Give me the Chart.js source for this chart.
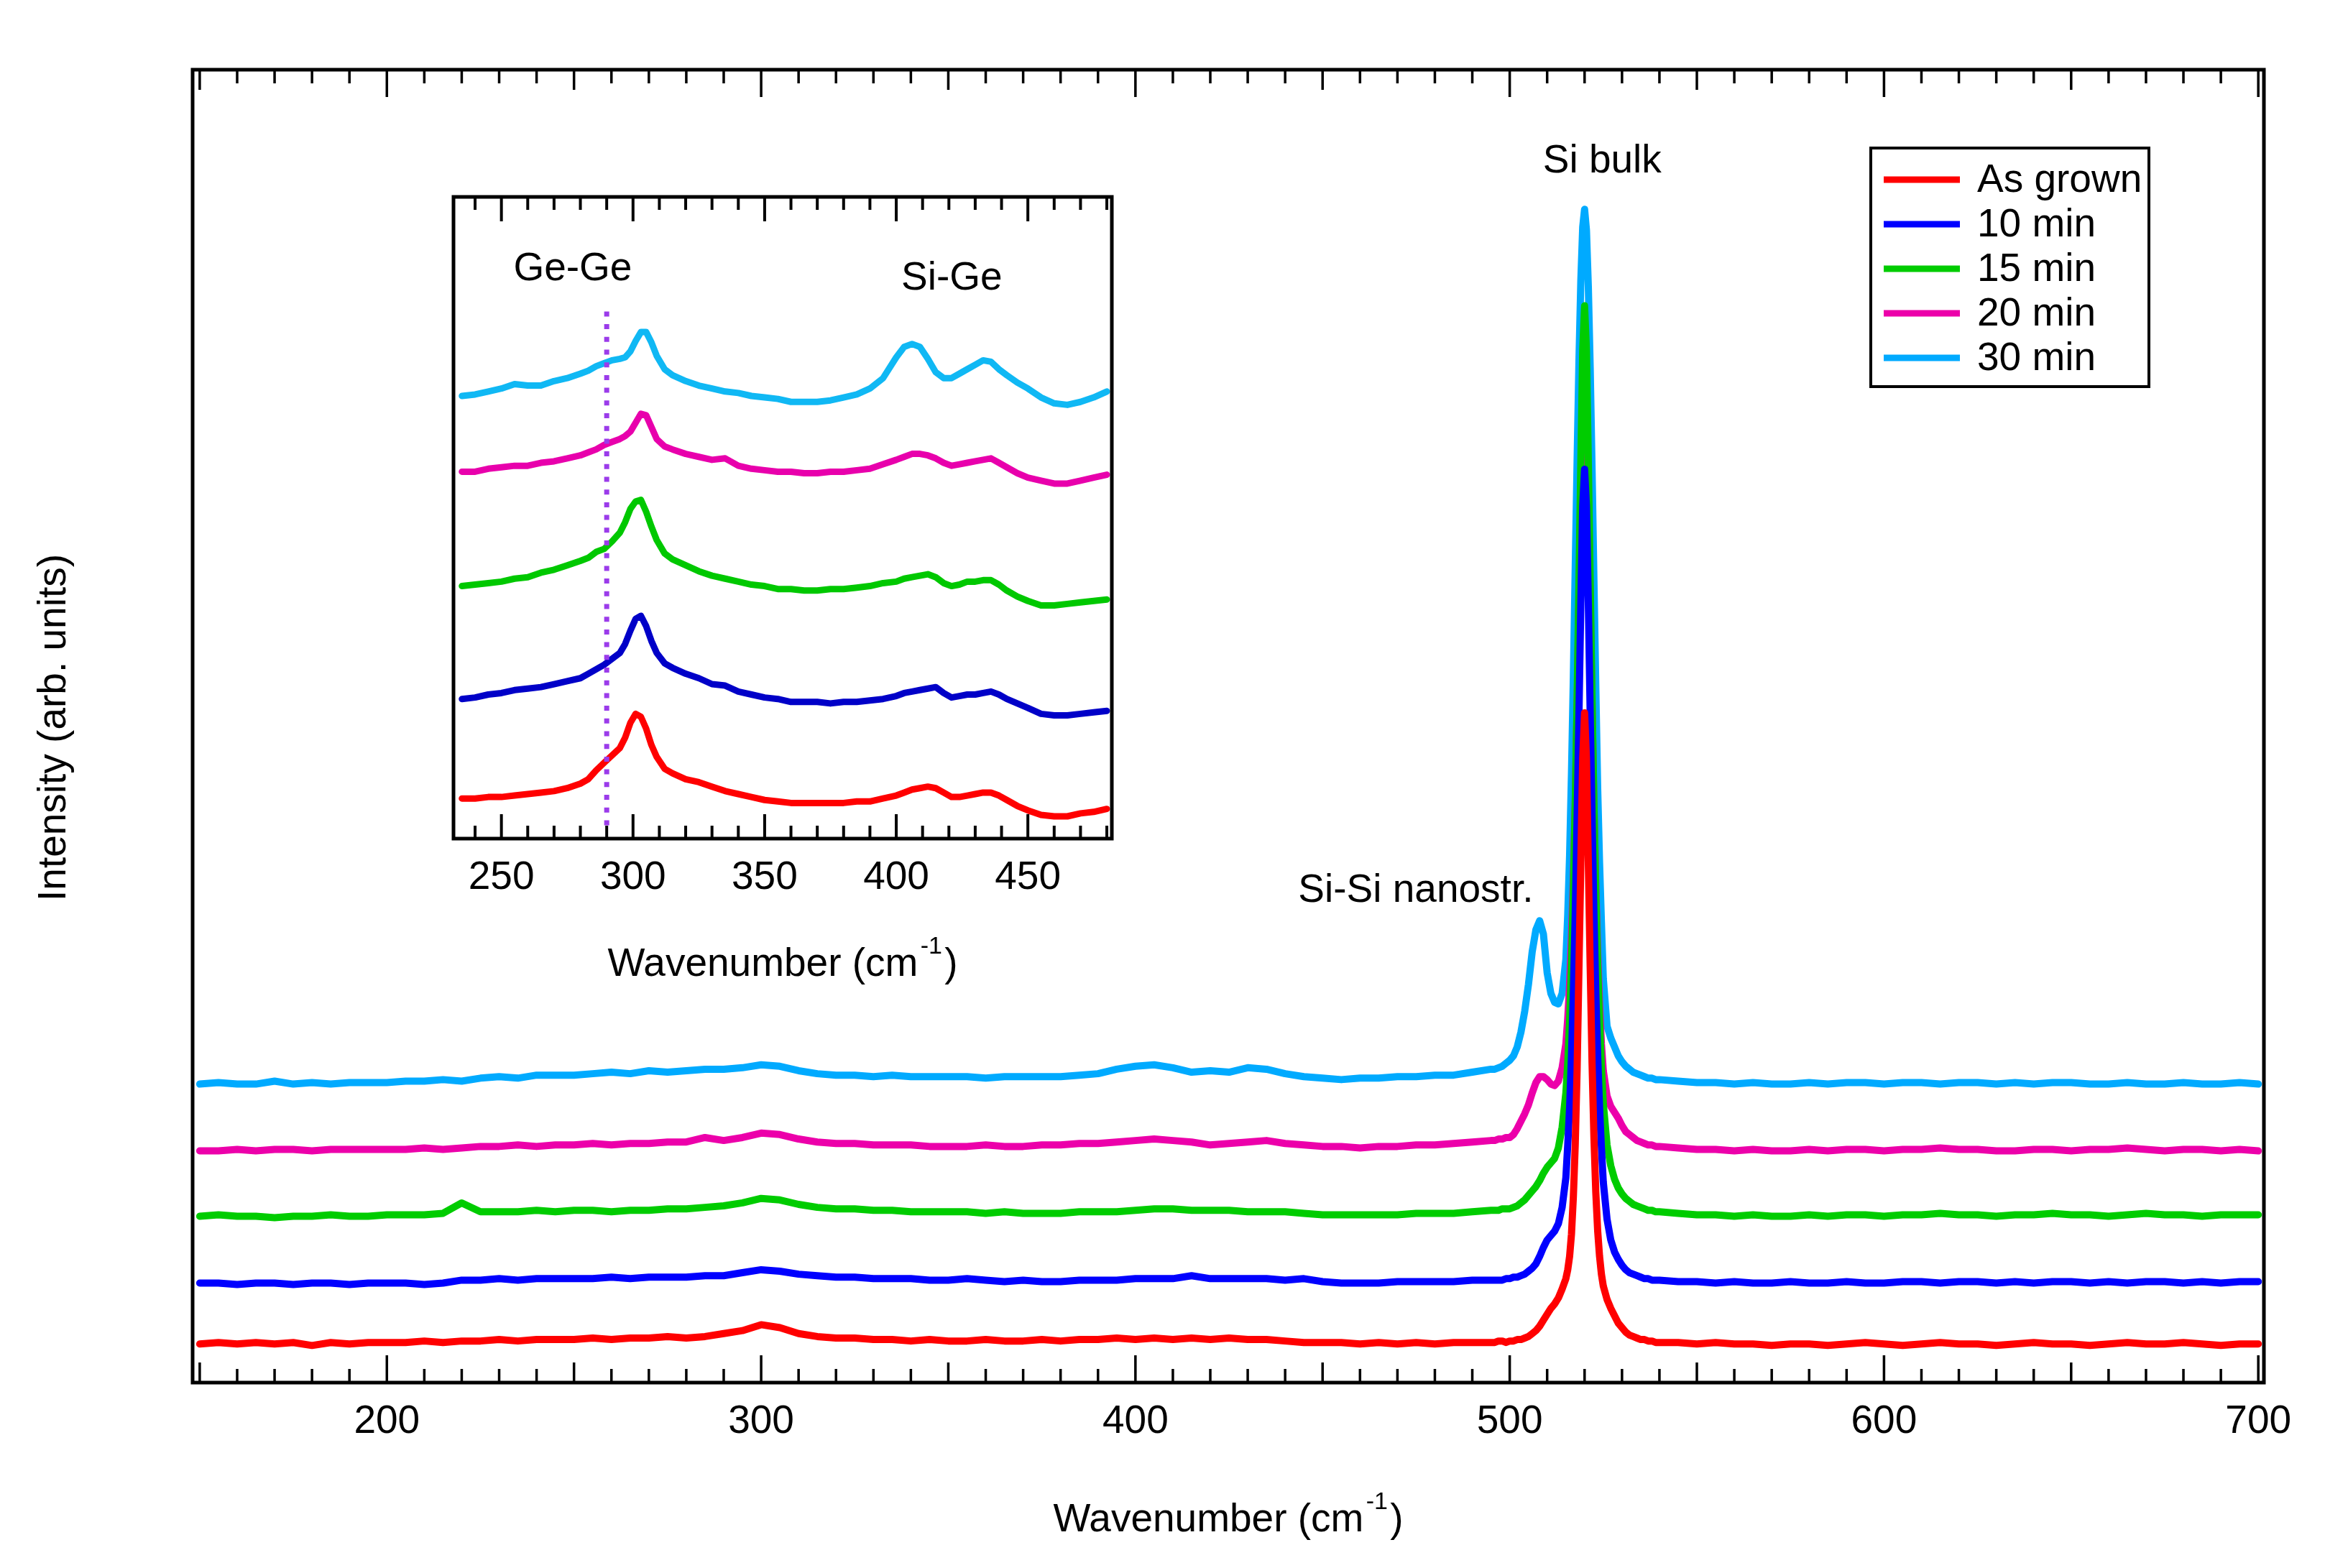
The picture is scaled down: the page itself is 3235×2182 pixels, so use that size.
<!DOCTYPE html>
<html>
<head>
<meta charset="utf-8">
<script src="https://cdn.jsdelivr.net/npm/chart.js@4.4.1/dist/chart.umd.min.js"></script>
<style>
  html, body { margin: 0; padding: 0; background: #fff; overflow: hidden; }
  #wrap { position: relative; width: 3235px; height: 2182px; }
  #wrap canvas { position: absolute; left: 0; top: 0; }
</style>
</head>
<body>
<div id="wrap">
  <canvas id="mainChart" width="3235" height="2182"></canvas>
  <canvas id="insetChart" width="3235" height="2182"></canvas>
</div>
<script>
// ---- main spectra (wavenumber in cm-1, intensity offset per trace, arb. units) ----
const wavenumbers = [
  150,155,160,165,170,175,180,185,190,195,200,205,210,215,220,225,230,235,240,245,
  250,255,260,265,270,275,280,285,290,295,300,305,310,315,320,325,330,335,340,345,
  350,355,360,365,370,375,380,385,390,395,400,405,410,415,420,425,430,435,440,445,
  450,455,460,465,470,475,480,485,490,495,
  496,497,498,499,500,501,502,503,504,505,506,507,508,509,510,511,512,513,514,515,
  515.5,516,516.5,517,517.5,518,518.5,519,519.5,520,520.5,521,521.5,522,522.5,523,523.5,524,524.5,
  525,526,527,528,529,530,531,532,533,534,535,536,537,538,539,540,
  545,550,555,560,565,570,575,580,585,590,595,600,605,610,615,620,625,630,635,640,
  645,650,655,660,665,670,675,680,685,690,695,700
];

const asGrown = [
  26,27,26,27,26,27,25,27,26,27, 27,27,28,27,28,28,29,28,29,29,
  29,30,29,30,30,31,30,31,33,35, 39,37,33,31,30,30,29,29,28,29,
  28,28,29,28,28,29,28,29,29,30, 29,30,29,30,29,30,29,29,28,27,
  27,27,26,27,26,27,26,27,27,27,
  27,28,28,27,28,28,29,29,30,31,33,35,38,42,46,50,53,57,63,70,
  76,85,100,125,160,210,280,350,420,451,420,350,280,215,165,128,102,85,73,
  65,56,50,45,40,37,34,32,31,30,29,29,28,28,27,27,
  27,26,27,26,26,25,26,26,25,26,27,26,25,26,27,26,26,25,26,27,26,26,25,26,27,26,26,27,26,25,26,26
];
const min10 = [
  67,67,66,67,67,66,67,67,66,67, 67,67,66,67,69,69,70,69,70,70,
  70,70,71,70,71,71,71,72,72,74, 76,75,73,72,71,71,70,70,70,69,
  69,70,69,68,69,68,68,69,69,69, 70,70,70,72,70,70,70,70,69,70,
  68,67,67,67,68,68,68,68,69,69,
  69,69,69,70,70,71,71,72,73,75,77,80,85,91,96,99,102,107,118,138,
  160,185,220,262,315,380,450,525,590,615,590,525,450,380,315,262,220,185,158,
  135,110,96,88,83,79,76,74,73,72,71,70,70,69,69,69,
  68,68,67,68,67,67,68,67,67,68,67,67,68,68,67,68,68,67,68,67,68,68,67,68,67,68,68,67,68,67,68,68
];
const min15 = [
  112,113,112,112,111,112,112,113,112,112, 113,113,113,114,121,115,115,115,116,115,
  116,116,115,116,116,117,117,118,119,121, 124,123,120,118,117,117,116,116,115,115,
  115,115,114,115,114,114,114,115,115,115, 116,117,117,116,116,116,115,115,115,114,
  113,113,113,113,113,114,114,114,115,116,
  116,116,117,117,117,118,119,121,123,126,129,132,136,141,145,148,151,158,172,195,
  215,243,282,330,390,460,540,620,695,725,695,620,540,460,390,330,282,243,212,
  188,160,146,137,131,127,124,122,120,119,118,117,116,116,115,115,
  114,113,113,112,113,112,112,113,112,113,113,112,113,113,114,113,113,112,113,113,114,113,113,112,113,114,113,113,112,113,113,113
];
const min20 = [
  156,156,157,156,157,157,156,157,157,157, 157,157,158,157,158,159,159,160,159,160,
  160,161,160,161,161,162,162,165,163,165, 168,167,164,162,161,161,160,160,160,159,
  159,159,160,159,159,160,160,161,161,162, 163,164,163,162,160,161,162,163,161,160,
  159,159,158,159,159,160,160,161,162,163,
  163,164,164,165,165,167,171,176,181,187,195,202,206,206,204,201,200,203,212,228,
  245,268,300,340,390,455,525,595,660,690,660,595,525,455,390,335,290,255,228,
  210,193,186,182,178,173,169,167,165,163,162,161,160,160,159,159,
  158,157,157,156,157,156,156,157,156,157,157,156,157,157,158,157,157,156,156,157,157,156,157,157,158,157,156,157,157,156,157,156
];
const min30 = [
  201,202,201,201,203,201,202,201,202,202, 202,203,203,204,203,205,206,205,207,207,
  207,208,209,208,210,209,210,211,211,212, 214,213,210,208,207,207,206,207,206,206,
  206,206,205,206,206,206,206,207,208,211, 213,214,212,209,210,209,212,211,208,206,
  205,204,205,205,206,206,207,207,209,211,
  211,212,213,215,217,220,226,236,250,268,290,305,311,302,276,262,256,255,262,285,
  315,355,410,475,548,620,688,742,778,790,776,738,683,615,540,468,400,350,310,
  272,240,232,226,220,216,213,211,209,208,207,206,205,205,204,204,
  203,202,202,201,202,201,201,202,201,202,202,201,202,202,201,202,202,201,202,201,202,202,201,201,202,201,201,202,201,201,202,201
];
const mainTickValues = [200, 300, 400, 500, 600, 700];

// ---- inset: Ge-Ge / Si-Ge region ----
const insetWavenumbers = [
  235,240,245,250,255,260,265,270,275,280,283,286,289,292,295,297,299,301,303,305,
  307,309,312,315,320,325,330,335,340,345,350,355,360,365,370,375,380,385,390,395,
  400,403,406,409,412,415,418,421,424,427,430,433,436,439,442,446,450,455,460,465,
  470,475,480
];
const insetAsGrown = [
  27,27,28,28,29,30,31,32,34,37, 40,46,51,56,61, 68,78,84,82,74,63,55, 47,44,
  40,38,35,32,30,28,26,25,24,24,24,24,24,25,25,27, 29,
  31,33,34,35,34,31,28,28,29,30,31,31,29,26, 22,19,16,15,15,17,18,20
];
const insetMin10 = [
  94,95,97,98,100,101,102,104,106,108, 111,114,117,121,125, 131,140,148,150,143,133,125, 118,115,
  111,108,104,103,99,97,95,94,92,92,92,91,92,92,93,94, 96,
  98,99,100,101,102,98,95,96,97,97,98,99,97,94, 91,88,84,83,83,84,85,86
];
const insetMin15 = [
  170,171,172,173,175,176,179,181,184,187, 189,193,195,200,206, 213,222,227,228,220,210,201, 192,188,
  184,180,177,175,173,171,170,168,168,167,167,168,168,169,170,172, 173,
  175,176,177,178,176,172,170,171,173,173,174,174,171,167, 163,160,157,157,158,159,160,161
];
const insetMin20 = [
  247,247,249,250,251,251,253,254,256,258, 260,262,265,267,269, 271,274,280,286,285,277,269, 264,262,
  259,257,255,256,251,249,248,247,247,246,246,247,247,248,249,252, 255,
  257,259,259,258,256,253,251,252,253,254,255,256,253,250, 246,243,241,239,239,241,243,245
];
const insetMin30 = [
  298,299,301,303,306,305,305,308,310,313, 315,318,320,322,323, 324,328,335,341,341,334,325, 316,312,
  308,305,303,301,300,298,297,296,294,294,294,295,297,299,303,310, 324,
  331,333,331,323,314,310,310,313,316,319,322,321,316,312, 307,303,297,293,292,294,297,301
];
const insetTickValues = [250, 300, 350, 400, 450];
const geGeMarkerX = [290, 290];
const geGeMarkerY = [9, 358];

const seriesNames = ['As grown', '10 min', '15 min', '20 min', '30 min'];

const FONT = "'Liberation Sans', Arial, Helvetica, sans-serif";
const mainColors = ['#ff0000', '#0000ff', '#00cc00', '#ec00aa', '#00aaff'];
const insetColors = ['#ff0000', '#0000c8', '#00c800', '#e800ac', '#10b8f4'];

function toPoints(xs, ys) {
  return xs.map((x, i) => ({ x: x, y: ys[i] }));
}

function drawWavenumberTitle(ctx, cx, baseline, size) {
  const mainFont = size + 'px ' + FONT;
  const supFont = Math.round(size * 0.62) + 'px ' + FONT;
  ctx.font = mainFont;
  const w1 = ctx.measureText('Wavenumber (cm').width;
  const w3 = ctx.measureText(')').width;
  ctx.font = supFont;
  const w2 = ctx.measureText('-1').width;
  const gap = size * 0.06;
  const x0 = cx - (w1 + gap + w2 + gap + w3) / 2;
  ctx.fillStyle = '#000';
  ctx.textAlign = 'left';
  ctx.textBaseline = 'alphabetic';
  ctx.font = mainFont;
  ctx.fillText('Wavenumber (cm', x0, baseline);
  ctx.font = supFont;
  ctx.fillText('-1', x0 + w1 + gap, baseline - size * 0.56);
  ctx.font = mainFont;
  ctx.fillText(')', x0 + w1 + gap + w2 + gap, baseline);
}

// frame round the plot area plus inward ticks on bottom and top
const frameTicks = {
  id: 'frameTicks',
  afterDraw(chart, args, opts) {
    const { ctx, chartArea: a } = chart;
    const x = chart.scales.x;
    ctx.save();
    ctx.strokeStyle = '#000';
    ctx.lineWidth = opts.tickWidth;
    ctx.lineCap = 'butt';
    for (let v = opts.first; v <= opts.last; v += opts.minorStep) {
      const px = x.getPixelForValue(v);
      let len = opts.minorLen;
      if (v % opts.majorStep === 0) len = opts.majorLen;
      else if (opts.midStep && v % opts.midStep === 0) len = opts.midLen;
      ctx.beginPath();
      ctx.moveTo(px, a.bottom);
      ctx.lineTo(px, a.bottom - len);
      ctx.moveTo(px, a.top);
      ctx.lineTo(px, a.top + len);
      ctx.stroke();
    }
    ctx.lineWidth = opts.frameWidth;
    ctx.strokeRect(a.left, a.top, a.right - a.left, a.bottom - a.top);
    ctx.restore();
  }
};

// peak labels, axis titles and the boxed legend
const textMarks = {
  id: 'textMarks',
  afterDraw(chart, args, opts) {
    const { ctx, chartArea: a } = chart;
    const { x, y } = chart.scales;
    ctx.save();
    ctx.fillStyle = '#000';
    ctx.font = opts.size + 'px ' + FONT;
    ctx.textAlign = 'center';
    ctx.textBaseline = 'middle';
    (opts.labels || []).forEach(l => {
      ctx.fillText(l.text, x.getPixelForValue(l.x), y.getPixelForValue(l.y));
    });

    drawWavenumberTitle(ctx, (a.left + a.right) / 2, a.bottom + opts.xTitleOffset, opts.size);

    if (opts.yTitle) {
      ctx.save();
      ctx.translate(opts.yTitle.x, (a.top + a.bottom) / 2 + opts.yTitle.dy);
      ctx.rotate(-Math.PI / 2);
      ctx.font = opts.size + 'px ' + FONT;
      ctx.textAlign = 'center';
      ctx.textBaseline = 'middle';
      ctx.fillText(opts.yTitle.text, 0, 0);
      ctx.restore();
    }

    if (opts.legend) {
      const lg = opts.legend;
      ctx.fillStyle = '#fff';
      ctx.fillRect(lg.left, lg.top, lg.right - lg.left, lg.bottom - lg.top);
      ctx.strokeStyle = '#000';
      ctx.lineWidth = 4;
      ctx.strokeRect(lg.left, lg.top, lg.right - lg.left, lg.bottom - lg.top);
      ctx.font = opts.size + 'px ' + FONT;
      ctx.textAlign = 'left';
      ctx.textBaseline = 'middle';
      chart.data.datasets.slice(0, seriesNames.length).forEach((ds, i) => {
        const yy = lg.firstRow + i * lg.rowGap;
        ctx.strokeStyle = ds.borderColor;
        ctx.lineWidth = 9;
        ctx.beginPath();
        ctx.moveTo(lg.left + 18, yy);
        ctx.lineTo(lg.left + 124, yy);
        ctx.stroke();
        ctx.fillStyle = '#000';
        ctx.fillText(ds.label, lg.left + 148, yy + 2);
      });
    }
    ctx.restore();
  }
};

const mainSeries = [asGrown, min10, min15, min20, min30];
const insetSeries = [insetAsGrown, insetMin10, insetMin15, insetMin20, insetMin30];

function lineSet(label, xs, ys, color, width) {
  return {
    label: label,
    data: toPoints(xs, ys),
    borderColor: color,
    backgroundColor: color,
    borderWidth: width,
    pointRadius: 0,
    tension: 0,
    fill: false,
    borderJoinStyle: 'round',
    borderCapStyle: 'round'
  };
}

function xAxis(min, max, tickValues) {
  return {
    type: 'linear',
    min: min,
    max: max,
    afterBuildTicks: s => { s.ticks = tickValues.map(v => ({ value: v })); },
    ticks: { font: { family: FONT, size: 55 }, color: '#000', padding: 22, maxRotation: 0, autoSkip: false },
    grid: { display: false, drawTicks: false },
    border: { display: false }
  };
}

new Chart(document.getElementById('mainChart'), {
  type: 'line',
  data: {
    datasets: seriesNames.map((n, i) => lineSet(n, wavenumbers, mainSeries[i], mainColors[i], 10))
  },
  options: {
    responsive: false,
    devicePixelRatio: 1,
    animation: false,
    layout: { padding: { left: 268, top: 97, right: 85, bottom: 148 } },
    scales: {
      x: xAxis(148.1, 701.5, mainTickValues),
      y: { type: 'linear', min: 0, max: 884, display: false }
    },
    plugins: {
      legend: { display: false },
      tooltip: { enabled: false },
      frameTicks: { first: 150, last: 700, minorStep: 10, midStep: 50, majorStep: 100,
                    minorLen: 19, midLen: 28, majorLen: 38, tickWidth: 3.5, frameWidth: 5 },
      textMarks: {
        size: 55,
        labels: [
          { text: 'Si bulk', x: 524.7, y: 822 },
          { text: 'Si-Si nanostr.', x: 474.9, y: 331 }
        ],
        xTitleOffset: 207,
        yTitle: { text: 'Intensity (arb. units)', x: 76, dy: 2 },
        legend: { left: 2603, top: 206, right: 2990, bottom: 538, firstRow: 250, rowGap: 62 }
      }
    }
  },
  plugins: [frameTicks, textMarks]
});

const insetSets = seriesNames.map((n, i) => lineSet(n, insetWavenumbers, insetSeries[i], insetColors[i], 9));
insetSets.push({
  label: 'Ge-Ge marker',
  data: toPoints(geGeMarkerX, geGeMarkerY),
  borderColor: '#9b3bea',
  borderWidth: 7,
  borderDash: [7, 10.7],
  borderCapStyle: 'butt',
  pointRadius: 0,
  fill: false,
  order: -1
});

new Chart(document.getElementById('insetChart'), {
  type: 'line',
  data: { datasets: insetSets },
  options: {
    responsive: false,
    devicePixelRatio: 1,
    animation: false,
    layout: { padding: { left: 631, top: 274, right: 1688, bottom: 905 } },
    scales: {
      x: xAxis(231.8, 481.9, insetTickValues),
      y: { type: 'linear', min: 0, max: 432, display: false }
    },
    plugins: {
      legend: { display: false },
      tooltip: { enabled: false },
      frameTicks: { first: 240, last: 480, minorStep: 10, midStep: 0, majorStep: 50,
                    minorLen: 18, midLen: 18, majorLen: 34, tickWidth: 4, frameWidth: 5 },
      textMarks: {
        size: 55,
        labels: [
          { text: 'Ge-Ge', x: 277.1, y: 383 },
          { text: 'Si-Ge', x: 421.1, y: 377 }
        ],
        xTitleOffset: 191
      }
    }
  },
  plugins: [frameTicks, textMarks]
});
</script>
</body>
</html>
